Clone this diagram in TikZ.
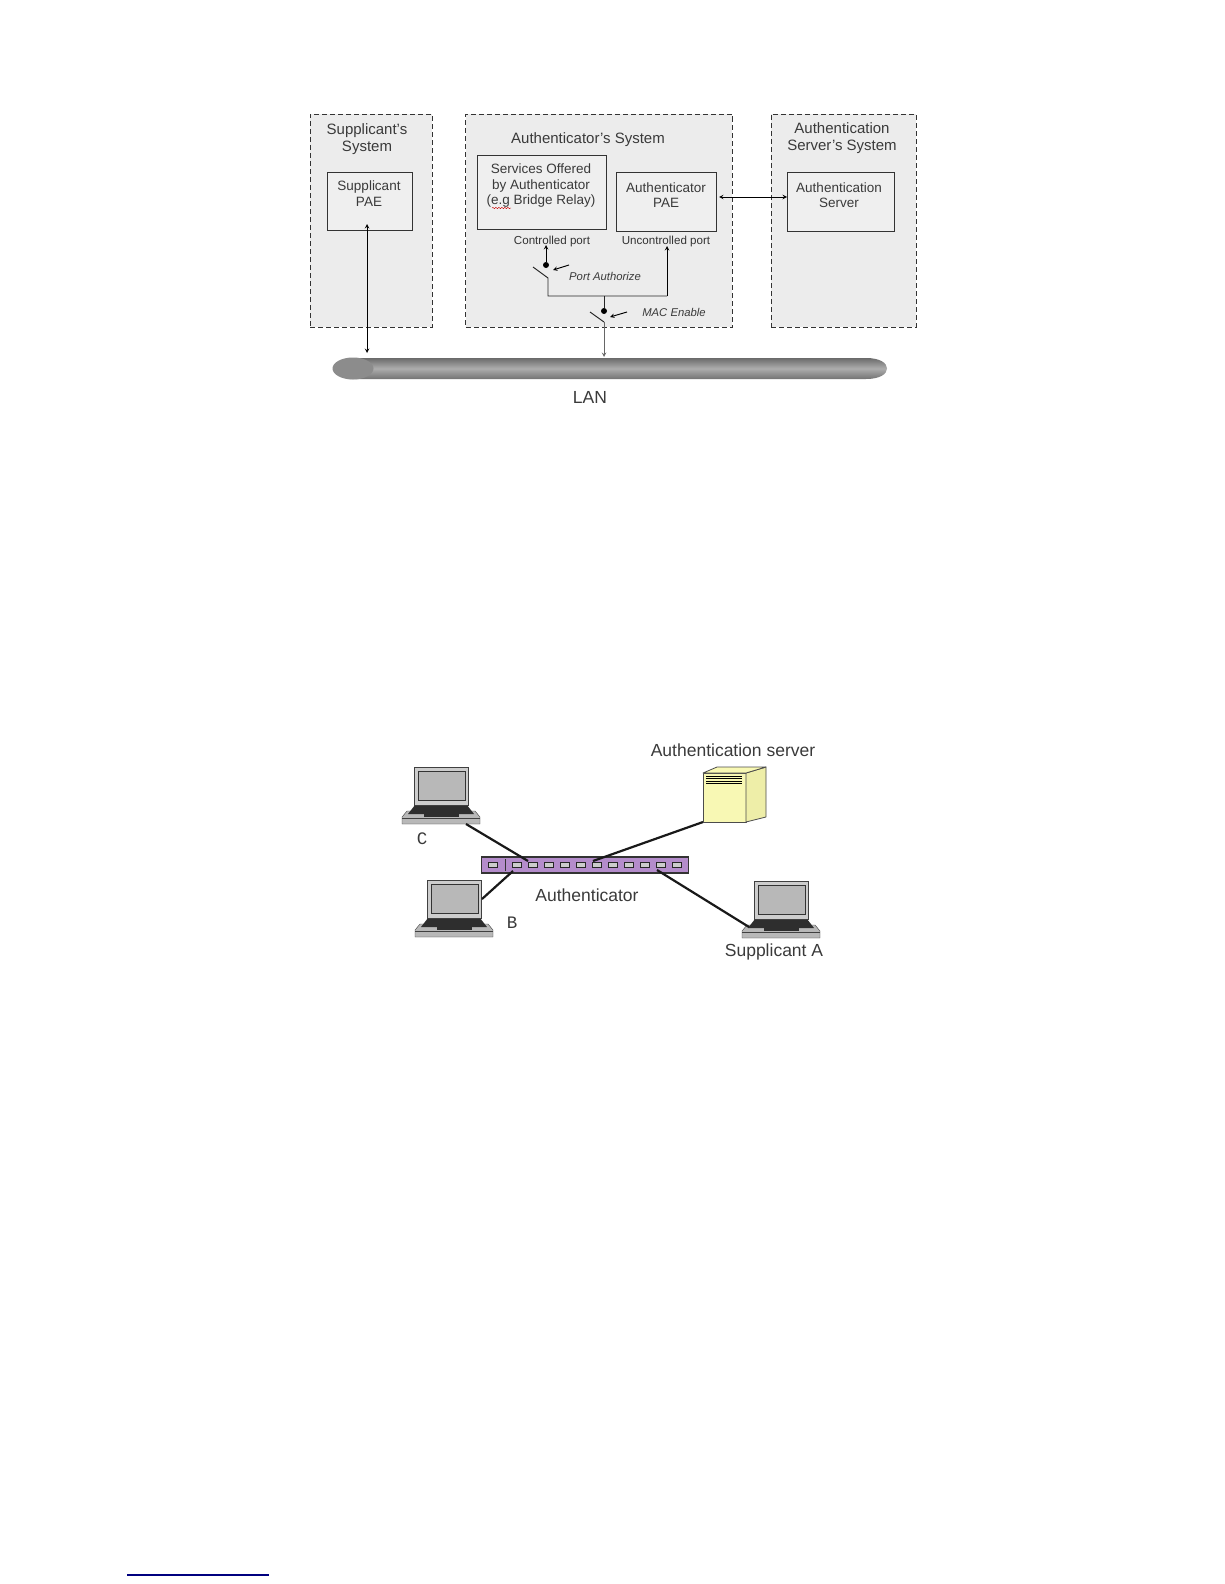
\documentclass[tikz,border=0pt]{standalone}
\usepackage{fontspec}
\setmainfont{Liberation Sans}
\newfontfamily\slabfont{Liberation Mono}
\usepackage{xcolor}
\usetikzlibrary{arrows, positioning, decorations.pathmorphing}
\definecolor{sysfill}{HTML}{ECECEC}
\definecolor{boxfill}{HTML}{EFEFEF}
\definecolor{txtgray}{HTML}{3A3A3A}
\definecolor{lapgray}{HTML}{B8B8B8}
\definecolor{lapdark}{HTML}{2E2E2E}
\definecolor{swfill}{HTML}{B48CCB}
\definecolor{srvfill}{HTML}{F8F8B4}
\definecolor{srvside}{HTML}{EEEEA8}
\definecolor{footblue}{HTML}{00007F}
\tikzset{
    sysbox/.style={rectangle, draw=black!80, line width=0.85pt, dash pattern=on 5pt off 3pt, fill=sysfill, minimum height=213pt, inner sep=0pt},
    innerbox/.style={rectangle, draw=black!80, line width=0.9pt, fill=boxfill, inner sep=0pt},
    captext/.style={text=txtgray, inner sep=0pt, align=center, font=\fontsize{15}{17}\selectfont},
    boxtext/.style={text=txtgray, inner sep=0pt, align=center, font=\fontsize{13.5}{15.5}\selectfont},
    porttext/.style={text=black!80, inner sep=0pt, font=\fontsize{11.6}{13}\selectfont},
    itext/.style={text=txtgray, inner sep=0pt, font=\fontsize{11.3}{13}\selectfont\itshape},
    bigtext/.style={text=txtgray, inner sep=0pt, font=\fontsize{17.5}{20}\selectfont},
    dot/.style={circle, fill=black, inner sep=0pt, minimum size=6pt},
    arrow/.style={line width=0.95pt,-{stealth},>=stealth},
    twoway/.style={line width=0.95pt,{stealth}-{stealth}},
    wire/.style={line width=0.95pt, black!85},
    link/.style={line width=2.2pt, black!90},
    pointer/.style={line width=0.95pt,-{stealth}},
    portbox/.style={rectangle, draw=black!85, line width=0.9pt, fill=black!20, inner sep=0pt, minimum width=9pt, minimum height=4.5pt},
    laptop/.pic={
        \fill [lapgray, draw=black!75] (-12,50) -- (-7,44) -- (61,44) -- (66,50) -- (66,57) -- (-12,57) -- cycle;
        \draw [black!75] (-12,51) -- (66,51);
        \fill [lapdark] (1,38) -- (53,38) -- (60,47) -- (-6,47) -- cycle;
        \fill [lapdark] (10,47) rectangle (45,50);
        \draw [thick, black!75, fill=lapgray!70] (0,0) rectangle (54,38);
        \draw [black!80, fill=lapgray] (4,4) rectangle (51,33);
    }
}

\begin{document}
\begin{tikzpicture}[x=1pt, y=-1pt]
    \useasboundingbox (0,0) rectangle (1224,1584);

    % upper diagram: the three systems
    \node (suppsys) [sysbox, minimum width=122pt] at (371,220.5) {};
    \node (authsys) [sysbox, minimum width=266.5pt, right=33pt of suppsys] {};
    \node (servsys) [sysbox, minimum width=145pt, right=38pt of authsys] {};

    \node (supptitle) [captext] at (367,139.5) {Supplicant's\\System};
    \node (authtitle) [captext] at (588,140) {Authenticator's System};
    \node (servtitle) [captext] at (842,138.5) {Authentication\\Server's System};

    \node (suppfae) [innerbox, minimum width=85pt, minimum height=58pt] at (369.5,201) {};
    \node (services) [innerbox, minimum width=129pt, minimum height=74pt] at (541.5,192) {};
    \node (authfae) [innerbox, minimum width=100pt, minimum height=59pt] at (666,201.5) {};
    \node (authsrv) [innerbox, minimum width=107pt, minimum height=59pt] at (840.5,201.5) {};

    \node (supptext) [boxtext] at (369,193.5) {Supplicant\\PAE};
    \node (servtext) [boxtext] at (541,186) {Services Offered\\by Authenticator\\(e.g Bridge Relay)};
    \node (faetext) [boxtext] at (666,195) {Authenticator\\PAE};
    \node (srvtext) [boxtext] at (839,195) {Authentication\\Server};
    \draw [red!80!black, decorate, decoration={snake, amplitude=0.7pt, segment length=3pt}] (492,208) -- (511,208);

    \node (ctrlport) [porttext] at (552,241) {Controlled port};
    \node (unctrlport) [porttext] at (666,241) {Uncontrolled port};
    \node (portauth) [itext] at (605,276) {Port Authorize};
    \node (macen) [itext] at (674,312) {MAC Enable};
    \node (lantext) [bigtext] at (590,397) {LAN};

    % the LAN bar
    \shade [top color=black!58, bottom color=black!55, middle color=black!32]
        (350,358) -- (866,358) .. controls (880,358) and (887,363) .. (887,368.5)
        .. controls (887,374) and (880,379) .. (866,379) -- (350,379) -- cycle;
    \fill [black!45] (353,368.5) ellipse (20.5pt and 11pt);

    % switches
    \node (dotport) [dot] at (546,265) {};
    \node (dotmac) [dot] at (604,311) {};
    \coordinate (bladeport) at (533,267);
    \coordinate (hingeport) at (548,278);
    \coordinate (bladelow) at (590,312);
    \coordinate (hingemac) at (604,322);
    \coordinate (junction) at (604,296);
    \coordinate (cornerl) at (548,296);
    \coordinate (cornerr) at (667,296);

    \coordinate (portup) at (546,245);
    \coordinate (unctrlup) at (667,246);
    \coordinate (suppup) at (367,224);
    \coordinate (suppdown) at (367,353);
    \coordinate (landrop) at (604,357);
    \coordinate (faeright) at (719,197);
    \coordinate (srvleft) at (787,197);
    \coordinate (portarrowa) at (569,265);
    \coordinate (portarrowb) at (553,270);
    \coordinate (macarrowa) at (627,312);
    \coordinate (macarrowb) at (610,317);

    \draw [twoway] (suppup) -- (suppdown);
    \draw [twoway] (faeright) -- (srvleft);
    \draw [arrow] (dotport) -- (portup);
    \draw [wire] (bladeport) -- (hingeport) -- (cornerl) -- (cornerr);
    \draw [arrow] (cornerr) -- (unctrlup);
    \draw [wire] (junction) -- (dotmac);
    \draw [wire] (bladelow) -- (hingemac);
    \draw [arrow, black!60] (hingemac) -- (landrop);
    \draw [pointer] (portarrowa) -- (portarrowb);
    \draw [pointer] (macarrowa) -- (macarrowb);

    % lower diagram
    \coordinate (cbase) at (466,824);
    \coordinate (cport) at (528,861);
    \coordinate (bside) at (482,899);
    \coordinate (bport) at (513,871);
    \coordinate (srvfoot) at (703,822);
    \coordinate (srvport) at (593,861);
    \coordinate (aport) at (657,870);
    \coordinate (abase) at (749,927);

    \pic (lapc) at (414,767) {laptop};
    \pic (lapb) at (427,880) {laptop};
    \pic (lapa) at (754,881) {laptop};

    \node (authsw) [rectangle, draw=black!80, line width=1.3pt, fill=swfill, minimum width=207pt, minimum height=16pt, inner sep=0pt] at (585,865) {};
    \node (p1) [portbox] at (493,865) {};
    \foreach \px in {517,533,...,677} {
        \node (p\px) [portbox] at (\px,865) {};
    }
    \coordinate (divtop) at (505,859);
    \coordinate (divbot) at (505,871);
    \draw [thick, black!80] (divtop) -- (divbot);

    % server box
    \draw [thick, black!70, fill=srvfill, line join=round] (703,773) rectangle (746,822);
    \draw [thick, black!70, fill=srvside, line join=round] (746,773) -- (766,767) -- (766,817) -- (746,822) -- cycle;
    \draw [thick, black!70, fill=srvfill, line join=round] (703,773) -- (717,767) -- (766,767) -- (746,773) -- cycle;
    \foreach \vy in {776,778.5,781,783.5} {
        \draw [black, line width=0.9pt] (706,\vy) -- (742,\vy);
    }

    \draw [link] (cbase) -- (cport);
    \draw [link] (bside) -- (bport);
    \draw [link] (srvfoot) -- (srvport);
    \draw [link] (aport) -- (abase);

    \node (srvlabel) [bigtext] at (733,750) {Authentication server};
    \node (swlabel) [bigtext] at (587,895) {Authenticator};
    \node (alabel) [bigtext] at (774,952) {Supplicant A};
    \node (clabel) [bigtext, font=\fontsize{17.5}{20}\selectfont\slabfont] at (422,839) {C};
    \node (blabel) [bigtext, font=\fontsize{17.5}{20}\selectfont\slabfont] at (512,923) {B};

    \draw [footblue, line width=1.2pt] (127,1575) -- (269,1575);
\end{tikzpicture}
\end{document}
